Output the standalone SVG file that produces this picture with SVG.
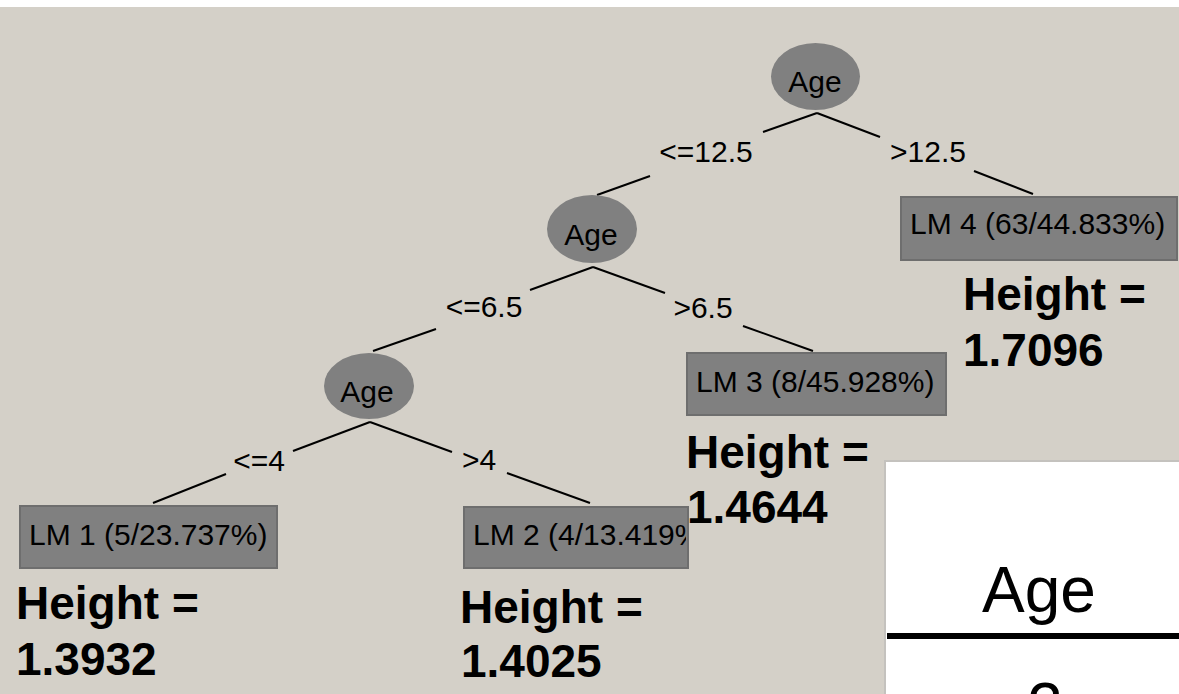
<svg xmlns="http://www.w3.org/2000/svg" width="1179" height="694" viewBox="0 0 1179 694">
<style>
.bg{fill:#d4d0c8}
.split{fill:#808080}
.leaf{fill:#808080;stroke:#6e6e6e;stroke-width:2}
.edge{stroke:#000;stroke-width:2;fill:none}
.sm{font-family:"Liberation Sans",Arial,sans-serif;font-size:30px;fill:#000}
.mid{text-anchor:middle}
.big{font-family:"Liberation Sans",Arial,sans-serif;font-size:46px;font-weight:bold;fill:#000}
.tbl{font-family:"Liberation Sans",Arial,sans-serif;font-size:64px;fill:#000;text-anchor:middle}
</style>
<defs>
<clipPath id="clipLM2"><rect x="463" y="506" width="223" height="63"/></clipPath>
</defs>
<rect x="0" y="0" width="1179" height="694" fill="#ffffff"/>
<rect class="bg" x="0" y="7" width="1179" height="687"/>

<g id="connectors">
<line class="edge" x1="817" y1="113" x2="880" y2="137"/>
<line class="edge" x1="974" y1="171" x2="1033" y2="194"/>
<text class="sm" x="890" y="162">&gt;12.5</text>
<line class="edge" x1="817" y1="113" x2="763" y2="132"/>
<line class="edge" x1="650" y1="176" x2="597" y2="195"/>
<text class="sm mid" x="706" y="162">&lt;=12.5</text>
<line class="edge" x1="593" y1="267" x2="530" y2="290"/>
<line class="edge" x1="436" y1="329" x2="373" y2="351"/>
<text class="sm mid" x="484" y="317">&lt;=6.5</text>
<line class="edge" x1="593" y1="267" x2="665" y2="293"/>
<line class="edge" x1="743" y1="326" x2="813" y2="351"/>
<text class="sm mid" x="703" y="318">&gt;6.5</text>
<line class="edge" x1="370" y1="422" x2="293" y2="451"/>
<line class="edge" x1="226" y1="474" x2="153" y2="503"/>
<text class="sm mid" x="259" y="471">&lt;=4</text>
<line class="edge" x1="370" y1="422" x2="452" y2="452"/>
<line class="edge" x1="507" y1="473" x2="590" y2="503"/>
<text class="sm mid" x="479" y="470">&gt;4</text>
</g>

<g id="node-age-root">
<ellipse class="split" cx="815.5" cy="76.5" rx="44.5" ry="33.5"/>
<text class="sm mid" x="815" y="92">Age</text>
</g>
<g id="node-age-2">
<ellipse class="split" cx="592" cy="229" rx="45" ry="34"/>
<text class="sm mid" x="591" y="245">Age</text>
</g>
<g id="node-age-3">
<ellipse class="split" cx="369" cy="386" rx="45" ry="33"/>
<text class="sm mid" x="367" y="402">Age</text>
</g>

<g id="node-lm4">
<rect class="leaf" x="901" y="197" width="276" height="63"/>
<text class="sm" x="910" y="234">LM 4 (63/44.833%)</text>
<text class="big" x="963" y="310">Height =</text>
<text class="big" x="963" y="366">1.7096</text>
</g>
<g id="node-lm3">
<rect class="leaf" x="687" y="353" width="259" height="62"/>
<text class="sm" x="696" y="392">LM 3 (8/45.928%)</text>
<text class="big" x="686" y="468">Height =</text>
<text class="big" x="687" y="523">1.4644</text>
</g>
<g id="node-lm1">
<rect class="leaf" x="20" y="506" width="257" height="62"/>
<text class="sm" x="29" y="545">LM 1 (5/23.737%)</text>
<text class="big" x="16" y="619">Height =</text>
<text class="big" x="16" y="675">1.3932</text>
</g>
<g id="node-lm2">
<rect class="leaf" x="464" y="507" width="224" height="61"/>
<text class="sm" x="473" y="545" clip-path="url(#clipLM2)">LM 2 (4/13.419%)</text>
<text class="big" x="460" y="623">Height =</text>
<text class="big" x="461" y="677">1.4025</text>
</g>

<g id="table-panel">
<rect x="884" y="460" width="295" height="234" fill="#c4c2be"/>
<rect x="886" y="462" width="293" height="232" fill="#ffffff"/>
<text class="tbl" x="1039" y="612">Age</text>
<rect x="887" y="633" width="292" height="6" fill="#000"/>
<text class="tbl" x="1045" y="728">2</text>
</g>
</svg>
